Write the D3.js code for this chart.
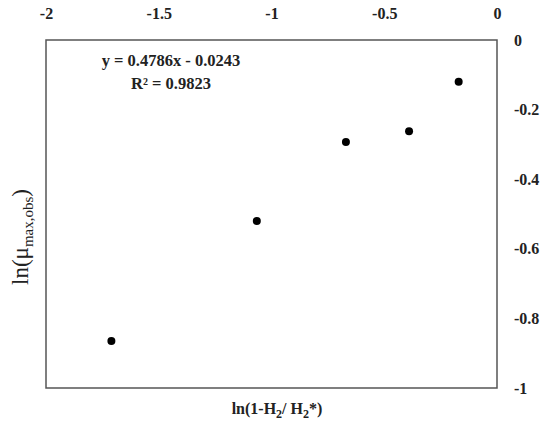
<!DOCTYPE html>
<html><head><meta charset="utf-8">
<script src="https://cdn.jsdelivr.net/npm/d3@7"></script>
<style>body{margin:0;background:#fff}svg{display:block}</style>
</head><body>
<svg id="c" width="550" height="436"></svg>
<script>
const xValues = [-1.71, -1.065, -0.67, -0.39, -0.17];
const yValues = [-0.865, -0.52, -0.293, -0.262, -0.12];
const xTicks = [-2, -1.5, -1, -0.5, 0];
const yTicks = [0, -0.2, -0.4, -0.6, -0.8, -1];
const eqLine1 = "y = 0.4786x - 0.0243";
const eqLine2 = "R² = 0.9823";

const svg = d3.select("#c");
const L = 46, R = 497, T = 40, B = 388;
const x = d3.scaleLinear().domain([-2, 0]).range([L, R]);
const y = d3.scaleLinear().domain([-1, 0]).range([B, T]);
const font = "'Liberation Serif', 'DejaVu Serif', serif";

svg.append("rect").attr("x", L).attr("y", T).attr("width", R - L).attr("height", B - T)
  .attr("fill", "none").attr("stroke", "#555").attr("stroke-width", 1.5);

const xa = svg.append("g").attr("transform", `translate(0,${T - 18})`)
  .call(d3.axisTop(x).tickValues(xTicks).tickSize(0).tickFormat(d => String(d)));
xa.select(".domain").remove();
xa.selectAll("text").attr("font-family", font).attr("font-size", 16).attr("font-weight", "bold").attr("fill", "#222");

const ya = svg.append("g").attr("transform", `translate(${R + 14},0)`)
  .call(d3.axisRight(y).tickValues(yTicks).tickSize(0).tickFormat(d => String(d)));
ya.select(".domain").remove();
ya.selectAll("text").attr("font-family", font).attr("font-size", 16).attr("font-weight", "bold").attr("fill", "#222").attr("dy", "0.32em");

svg.append("g").selectAll("circle").data(xValues).join("circle")
  .attr("cx", (d) => x(d)).attr("cy", (d, i) => y(yValues[i])).attr("r", 4).attr("fill", "#000");

svg.append("text").attr("x", 171).attr("y", 66).attr("text-anchor", "middle")
  .attr("font-family", font).attr("font-size", 16.5).attr("font-weight", "bold").attr("fill", "#222").text(eqLine1);
svg.append("text").attr("x", 171).attr("y", 89).attr("text-anchor", "middle")
  .attr("font-family", font).attr("font-size", 16.5).attr("font-weight", "bold").attr("fill", "#222").text(eqLine2);

const xt = svg.append("text").attr("x", 277).attr("y", 414).attr("text-anchor", "middle")
  .attr("font-family", font).attr("font-size", 16).attr("font-weight", "bold").attr("fill", "#222");
xt.append("tspan").text("ln(1-H");
xt.append("tspan").attr("dy", 4).attr("font-size", 12).text("2");
xt.append("tspan").attr("dy", -4).text("/ H");
xt.append("tspan").attr("dy", 4).attr("font-size", 12).text("2");
xt.append("tspan").attr("dy", -4).text("*)");

const yt = svg.append("text").attr("transform", "translate(28,237) rotate(-90)").attr("text-anchor", "middle")
  .attr("font-family", font).attr("font-size", 23).attr("fill", "#222");
yt.append("tspan").text("ln(μ");
yt.append("tspan").attr("dy", 5).attr("font-size", 15).text("max,obs");
yt.append("tspan").attr("dy", -5).text(")");
</script>
</body></html>
